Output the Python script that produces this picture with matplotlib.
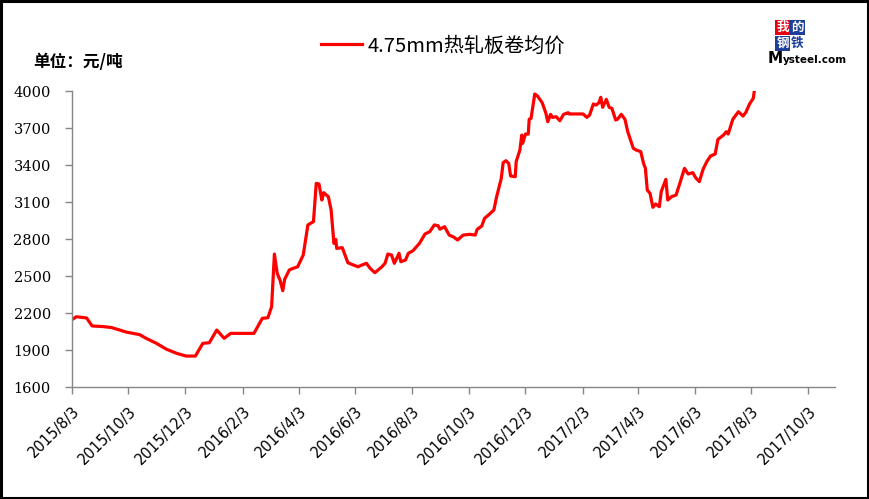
import matplotlib.pyplot as plt
import matplotlib.dates as mdates
from matplotlib.patches import Rectangle
import pandas as pd

plt.rcParams['font.family'] = ['Noto Sans CJK SC', 'DejaVu Sans']

# 4.75mm hot-rolled coil average price (yuan/ton)
dates = [
    '2015-08-03', '2015-08-08', '2015-08-19', '2015-08-25', '2015-09-06', '2015-09-15',
    '2015-10-01', '2015-10-15', '2015-10-22', '2015-11-02', '2015-11-13', '2015-11-24',
    '2015-12-04', '2015-12-14', '2015-12-22', '2015-12-29', '2016-01-06', '2016-01-14',
    '2016-01-21', '2016-02-15', '2016-02-24', '2016-03-01', '2016-03-05', '2016-03-08',
    '2016-03-11', '2016-03-14', '2016-03-17', '2016-03-19', '2016-03-24', '2016-03-28',
    '2016-04-02', '2016-04-08', '2016-04-13', '2016-04-19', '2016-04-22', '2016-04-25',
    '2016-04-28', '2016-04-30', '2016-05-05', '2016-05-08', '2016-05-11', '2016-05-13',
    '2016-05-14', '2016-05-20', '2016-05-26', '2016-06-01', '2016-06-06', '2016-06-10',
    '2016-06-15', '2016-06-19', '2016-06-24', '2016-07-01', '2016-07-05', '2016-07-08',
    '2016-07-12', '2016-07-15', '2016-07-20', '2016-07-22', '2016-07-27', '2016-07-30',
    '2016-08-04', '2016-08-11', '2016-08-17', '2016-08-22', '2016-08-27', '2016-08-31',
    '2016-09-02', '2016-09-07', '2016-09-12', '2016-09-17', '2016-09-21', '2016-09-27',
    '2016-10-04', '2016-10-10', '2016-10-12', '2016-10-17', '2016-10-20', '2016-10-25',
    '2016-10-30', '2016-11-02', '2016-11-07', '2016-11-09', '2016-11-12', '2016-11-15',
    '2016-11-17', '2016-11-22', '2016-11-23', '2016-11-27', '2016-11-29', '2016-11-30',
    '2016-12-03', '2016-12-06', '2016-12-07', '2016-12-09', '2016-12-13', '2016-12-16',
    '2016-12-21', '2016-12-25', '2016-12-27', '2016-12-30', '2017-01-01', '2017-01-05',
    '2017-01-09', '2017-01-13', '2017-01-18', '2017-01-19', '2017-02-03', '2017-02-07',
    '2017-02-10', '2017-02-14', '2017-02-17', '2017-02-20', '2017-02-22', '2017-02-24',
    '2017-02-28', '2017-03-03', '2017-03-06', '2017-03-10', '2017-03-12', '2017-03-16',
    '2017-03-20', '2017-03-23', '2017-03-29', '2017-04-01', '2017-04-06', '2017-04-09',
    '2017-04-11', '2017-04-13', '2017-04-16', '2017-04-19', '2017-04-22', '2017-04-26',
    '2017-04-28', '2017-05-03', '2017-05-05', '2017-05-09', '2017-05-14', '2017-05-18',
    '2017-05-23', '2017-05-27', '2017-06-01', '2017-06-04', '2017-06-08', '2017-06-12',
    '2017-06-16', '2017-06-20', '2017-06-25', '2017-06-28', '2017-07-04', '2017-07-07',
    '2017-07-09', '2017-07-14', '2017-07-20', '2017-07-25', '2017-07-28', '2017-08-01',
    '2017-08-05', '2017-08-06',
]
prices = [
    2145, 2170, 2160, 2095, 2090, 2082,
    2045, 2025, 1995, 1955, 1906, 1873,
    1851, 1851, 1954, 1959, 2062, 1995,
    2035, 2035, 2157, 2162, 2251, 2678,
    2522, 2468, 2381, 2473, 2549, 2562,
    2575, 2670, 2914, 2941, 3251, 3246,
    3116, 3176, 3143, 3035, 2765, 2797,
    2724, 2730, 2608, 2589, 2575, 2589,
    2603, 2562, 2527, 2571, 2603, 2678,
    2670, 2603, 2684, 2616, 2630, 2684,
    2705, 2765, 2841, 2859, 2914, 2908,
    2880, 2900, 2832, 2815, 2792, 2832,
    2838, 2832, 2878, 2905, 2968, 3000,
    3035, 3143, 3292, 3419, 3435, 3413,
    3311, 3305, 3427, 3522, 3643, 3576,
    3651, 3651, 3771, 3778, 3976, 3959,
    3905, 3819, 3751, 3811, 3786, 3792,
    3759, 3811, 3824, 3814, 3814, 3786,
    3805, 3895, 3886, 3905, 3949, 3868,
    3932, 3868, 3859, 3765, 3771, 3811,
    3771, 3670, 3535, 3522, 3508, 3413,
    3373, 3197, 3170, 3057, 3084, 3062,
    3184, 3284, 3116, 3143, 3157, 3251,
    3373, 3327, 3338, 3297, 3265, 3365,
    3427, 3473, 3489, 3608, 3643, 3670,
    3651, 3771, 3832, 3797, 3827, 3895,
    3941, 3995,
]
tick_dates = ['2015-08-03', '2015-10-03', '2015-12-03', '2016-02-03', '2016-04-03',
              '2016-06-03', '2016-08-03', '2016-10-03', '2016-12-03', '2017-02-03',
              '2017-04-03', '2017-06-03', '2017-08-03', '2017-10-03']
tick_labels = ['2015/8/3', '2015/10/3', '2015/12/3', '2016/2/3', '2016/4/3',
               '2016/6/3', '2016/8/3', '2016/10/3', '2016/12/3', '2017/2/3',
               '2017/4/3', '2017/6/3', '2017/8/3', '2017/10/3']
y_ticks = [1600, 1900, 2200, 2500, 2800, 3100, 3400, 3700, 4000]

x = pd.to_datetime(dates)

fig = plt.figure(figsize=(8.69, 4.99), dpi=100)
ax = fig.add_axes([0.0825, 0.2244, 0.8785, 0.5932])

ax.plot(x, prices, color='#FF0000', lw=2.3, label='4.75mm热轧板卷均价')

ax.set_ylim(1600, 4000)
ax.set_yticks(y_ticks)
ax.set_yticklabels([str(v) for v in y_ticks], family='DejaVu Serif', fontsize=10.5)
ax.set_xlim(pd.Timestamp('2015-08-03'), pd.Timestamp('2017-11-01'))
ax.set_xticks(pd.to_datetime(tick_dates))
ax.set_xticklabels(tick_labels, rotation=45, ha='right', va='top',
                   rotation_mode='anchor', family='DejaVu Sans', fontsize=10.5)

for s in ['top', 'right']:
    ax.spines[s].set_visible(False)
for s in ['left', 'bottom']:
    ax.spines[s].set_color('#868686')
    ax.spines[s].set_linewidth(1.0)
ax.tick_params(axis='both', colors='#868686', length=5, width=1.0, labelcolor='black')
ax.tick_params(axis='y', pad=10)
ax.tick_params(axis='x', pad=7)

fig.text(0.038, 0.875, '单位：元/吨', fontsize=12, fontweight='bold', va='center')

fig.legend(loc='center', bbox_to_anchor=(0.51, 0.908), frameon=False,
           fontsize=14.5, handlelength=2.0, handletextpad=0.3)

# Mysteel logo
logo = [('我', 0.9005, 0.945, '#E60012', 'white'),
        ('的', 0.9175, 0.945, '#1D3F9A', 'white'),
        ('钢', 0.9005, 0.913, '#1D3F9A', 'white'),
        ('铁', 0.9175, 0.913, 'white', '#1D3F9A')]
for ch, lx, ly, bg, fg in logo:
    fig.text(lx, ly, ch, fontsize=9, fontweight='bold', color=fg, ha='center', va='center',
             family=['Noto Sans CJK SC'],
             bbox=dict(boxstyle='square,pad=0.08', fc=bg, ec='none'))
fig.text(0.883, 0.882, 'M', fontsize=11, fontweight='bold', va='center', family='DejaVu Sans')
fig.text(0.901, 0.880, 'ysteel.com', fontsize=7.5, fontweight='bold', va='center',
         family='DejaVu Sans')

fig.patches.append(Rectangle((0.0015, 0.0025), 0.997, 0.995, transform=fig.transFigure,
                             fill=False, ec='black', lw=2.2))

fig.savefig('out.png', dpi=100)
